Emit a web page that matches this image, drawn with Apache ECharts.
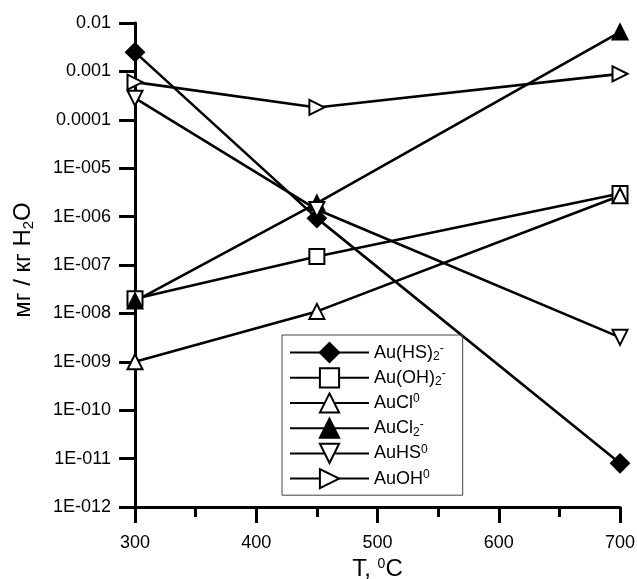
<!DOCTYPE html>
<html>
<head>
<meta charset="utf-8">
<script src="https://cdn.jsdelivr.net/npm/echarts@6/dist/echarts.min.js"></script>
<style>
  html, body { margin: 0; padding: 0; background: #fff; }
  #main { width: 637px; height: 579px; }
</style>
</head>
<body>
<div id="main"></div>
<script>
// temperatures, degC
const temps = [300, 450, 700];

// concentrations, mg / kg H2O
const auHS2 = [2.5e-3, 9.3e-7, 8e-12];
const auOH2 = [2.0e-8, 1.5e-7, 3.0e-6];
const auCl0 = [1.0e-9, 1.1e-8, 2.7e-6];
const auCl2 = [1.8e-8, 1.9e-6, 6.5e-3];
const auHS0 = [2.8e-4, 1.4e-6, 3.2e-9];
const auOH0 = [6.0e-4, 1.8e-4, 8.9e-4];

const seriesNames = ['Au(HS)2-', 'Au(OH)2-', 'AuCl0', 'AuCl2-', 'AuHS0', 'AuOH0'];
// same names with sub/superscripts as rich text
const legendLabels = [
    '{n|Au(HS)}{sb|2}{sp|-}',
    '{n|Au(OH)}{sb|2}{sp|-}',
    '{n|AuCl}{sp|0}',
    '{n|AuCl}{sb|2}{sp|-}',
    '{n|AuHS}{sp|0}',
    '{n|AuOH}{sp|0}'
];

// y tick labels from 0.01 down to 1E-012
const yTickLabels = ['0.01', '0.001', '0.0001', '1E-005', '1E-006', '1E-007',
                     '1E-008', '1E-009', '1E-010', '1E-011', '1E-012'];

const FONT = 'Liberation Sans, Arial, sans-serif';

function pairs(vals) {
    return temps.map((t, i) => [t, vals[i]]);
}

let chart = echarts.init(document.getElementById('main'));

function makeSeries(name, vals, symbol, filled, rotate, size) {
    return {
        name: name,
        type: 'line',
        data: pairs(vals),
        symbol: symbol,
        symbolSize: size,
        symbolRotate: rotate,
        showAllSymbol: true,
        lineStyle: { color: '#000', width: 2.6 },
        itemStyle: {
            color: filled ? '#000' : '#fff',
            borderColor: '#000',
            borderWidth: 2
        },
        z: 3
    };
}

let option = {
    backgroundColor: '#fff',
    animation: false,
    textStyle: { fontFamily: FONT },
    grid: { left: 135, right: 17, top: 23, bottom: 72, outerBoundsMode: 'none', containLabel: false },
    xAxis: {
        type: 'value',
        min: 300,
        max: 700,
        interval: 100,
        name: 'T, {sp|0}C',
        nameLocation: 'middle',
        nameGap: 50,
        nameTextStyle: {
            color: '#000', fontSize: 24, fontFamily: FONT,
            rich: {
                sp: { fontSize: 14, lineHeight: 14, verticalAlign: 'top', color: '#000', fontFamily: FONT }
            }
        },
        axisLine: { lineStyle: { color: '#000', width: 3 } },
        axisTick: { inside: false, length: 16, lineStyle: { color: '#000', width: 3 } },
        minorTick: { show: true, splitNumber: 2, length: 10, lineStyle: { color: '#000', width: 3 } },
        axisLabel: { color: '#000', fontSize: 18, margin: 27 },
        splitLine: { show: false }
    },
    yAxis: {
        type: 'log',
        logBase: 10,
        min: 1e-12,
        max: 0.01,
        splitNumber: 10,
        name: '{a|мг / кг H}{b|2}{a|O}',
        nameLocation: 'middle',
        nameRotate: 90,
        nameGap: 99,
        nameTextStyle: {
            color: '#000', fontSize: 24, fontFamily: FONT,
            padding: [0, 0, 0, 10],
            rich: {
                a: { fontSize: 24, lineHeight: 26, color: '#000', fontFamily: FONT },
                b: { fontSize: 15, lineHeight: 15, verticalAlign: 'bottom', color: '#000', fontFamily: FONT }
            }
        },
        axisLine: { show: true, lineStyle: { color: '#000', width: 3 } },
        axisTick: { inside: false, length: 16, lineStyle: { color: '#000', width: 3 } },
        axisLabel: {
            color: '#000',
            fontSize: 18,
            margin: 24,
            formatter: function (v) {
                let k = Math.round(-2 - Math.log10(v));
                return yTickLabels[k] || '';
            }
        },
        splitLine: { show: false }
    },
    legend: {
        orient: 'vertical',
        left: 282,
        top: 335,
        itemWidth: 79,
        itemHeight: 24,
        itemGap: 4,
        padding: [7, 17, 6, 7],
        borderColor: '#444',
        borderWidth: 1,
        symbolRotate: 'inherit',
        formatter: function (name) {
            return legendLabels[seriesNames.indexOf(name)];
        },
        textStyle: {
            color: '#000',
            fontSize: 18,
            rich: {
                n: { fontSize: 18, lineHeight: 20, color: '#000', fontFamily: FONT },
                sb: { fontSize: 12, lineHeight: 12, verticalAlign: 'bottom', color: '#000', fontFamily: FONT },
                sp: { fontSize: 12, lineHeight: 12, verticalAlign: 'top', color: '#000', fontFamily: FONT }
            }
        },
        data: seriesNames
    },
    series: [
        makeSeries(seriesNames[0], auHS2, 'diamond', true, 0, 18),
        makeSeries(seriesNames[1], auOH2, 'rect', false, 0, 15),
        makeSeries(seriesNames[2], auCl0, 'triangle', false, 0, 15),
        makeSeries(seriesNames[3], auCl2, 'triangle', true, 0, 15),
        makeSeries(seriesNames[4], auHS0, 'triangle', false, 180, 15),
        makeSeries(seriesNames[5], auOH0, 'triangle', false, -90, 15)
    ]
};

chart.setOption(option);
</script>
</body>
</html>
